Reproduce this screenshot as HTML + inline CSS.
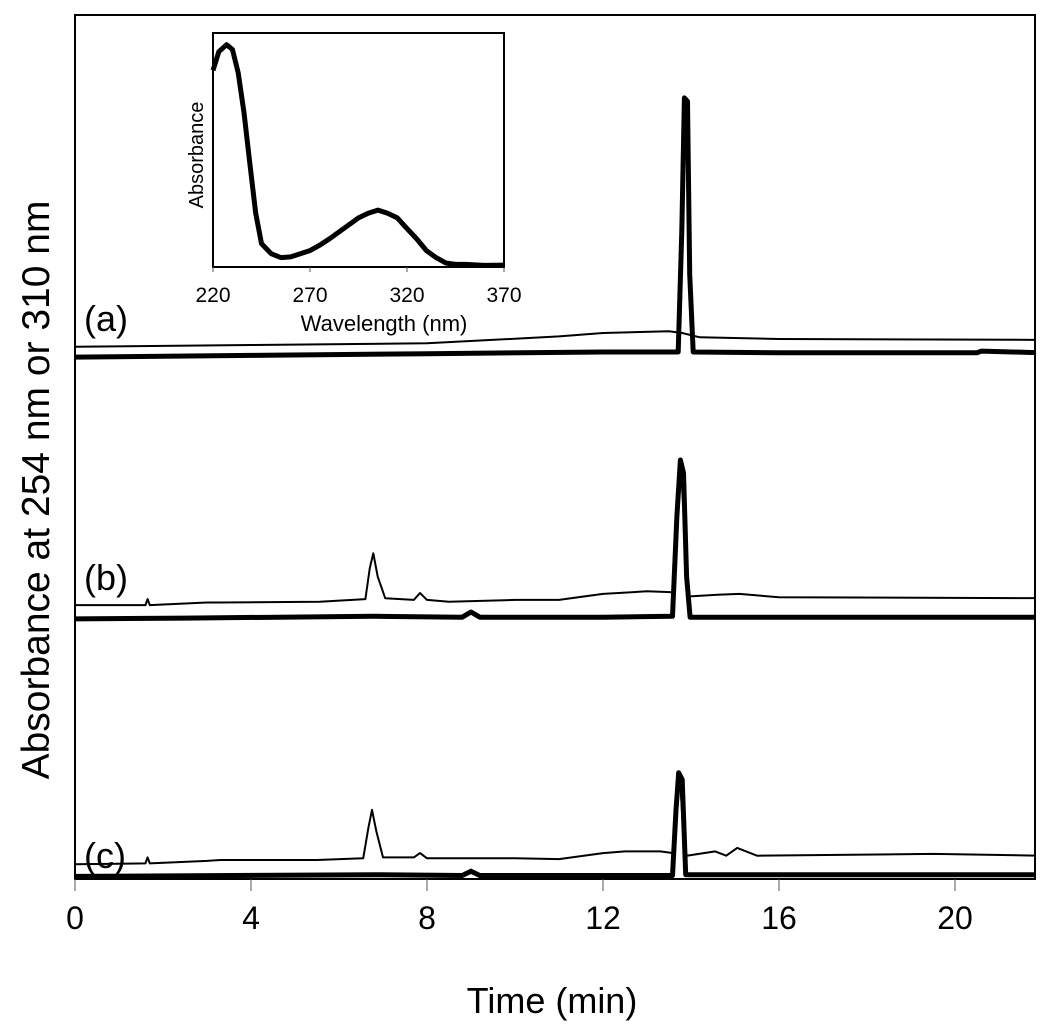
<!DOCTYPE html>
<html><head><meta charset="utf-8"><style>
html,body{margin:0;padding:0;background:#fff}
svg{display:block;font-family:"Liberation Sans",Arial,sans-serif}
</style></head><body>
<svg id="chart" width="1050" height="1035" viewBox="0 0 1050 1035"></svg>
<script>
// ---- main chart data (time in min, absorbance arbitrary offset units) ----
const xTicks = [0, 4, 8, 12, 16, 20];
const traceA_thick_t = [0, 4, 8, 12, 13.71, 13.79, 13.85, 13.92, 13.97, 14.05, 16, 20.5, 20.6, 22];
const traceA_thick_v = [60.4, 60.6, 60.8, 61.0, 61.0, 75, 90.4, 90.0, 70, 61.0, 60.9, 60.9, 61.1, 60.9];
const traceA_thin_t = [0, 4, 8, 11, 12, 13.5, 13.8, 14.2, 16, 22];
const traceA_thin_v = [61.6, 61.8, 62.0, 62.8, 63.2, 63.4, 63.2, 62.7, 62.5, 62.4];
const traceB_thick_t = [0, 2.5, 6.8, 8.8, 9.0, 9.2, 12, 13.58, 13.68, 13.76, 13.83, 13.9, 13.98, 16, 22];
const traceB_thick_v = [30.1, 30.2, 30.4, 30.3, 30.9, 30.3, 30.3, 30.4, 42, 48.5, 47, 35, 30.3, 30.3, 30.3];
const traceB_thin_t = [0, 1.6, 1.65, 1.7, 3.0, 3.3, 5.56, 6.6, 6.7, 6.78, 6.88, 7.05, 7.7, 7.84, 8.0, 8.5, 10.0, 11, 12, 13, 13.6, 13.68, 13.76, 13.84, 13.93, 14.6, 15.1, 16, 22];
const traceB_thin_v = [31.7, 31.7, 32.4, 31.7, 32.0, 32.0, 32.1, 32.4, 36, 37.7, 35, 32.5, 32.3, 33.1, 32.3, 32.1, 32.3, 32.3, 33.0, 33.3, 33.2, 42, 48, 42, 32.7, 32.9, 33.0, 32.6, 32.5];
const traceC_thick_t = [0, 6.8, 8.8, 9.0, 9.2, 12, 13.58, 13.66, 13.72, 13.8, 13.88, 16, 22];
const traceC_thick_v = [0.3, 0.5, 0.4, 0.9, 0.4, 0.4, 0.4, 8, 12.3, 11.5, 0.5, 0.5, 0.5];
const traceC_thin_t = [0, 1.6, 1.65, 1.7, 3.0, 3.3, 5.5, 6.55, 6.67, 6.75, 6.85, 7.0, 7.7, 7.84, 8.0, 8.9, 10.0, 11, 12, 12.5, 13.3, 13.6, 13.68, 13.75, 13.83, 13.9, 14.55, 14.8, 15.05, 15.5, 19.5, 22];
const traceC_thin_v = [1.7, 1.8, 2.5, 1.8, 2.1, 2.2, 2.2, 2.4, 6, 8.0, 5.5, 2.5, 2.5, 3.0, 2.4, 2.4, 2.4, 2.3, 3.0, 3.2, 3.2, 3.0, 9, 11.5, 5, 2.7, 3.2, 2.7, 3.6, 2.7, 2.9, 2.7];
// ---- inset spectrum data ----
const insetTicks = [220, 270, 320, 370];
const specWl = [220,223,227,230,233,236,239,242,245,250,255,260,265,270,275,280,285,290,295,300,305,310,315,320,325,330,335,340,345,350,360,370];
const specAbs = [0.84,0.92,0.95,0.93,0.83,0.66,0.44,0.23,0.10,0.057,0.04,0.043,0.057,0.07,0.093,0.12,0.15,0.18,0.21,0.23,0.243,0.23,0.21,0.164,0.12,0.07,0.04,0.017,0.011,0.011,0.007,0.008];

const NS = "http://www.w3.org/2000/svg";
const svg = document.getElementById('chart');
function mk(tag, attrs, parent){const e=document.createElementNS(NS,tag);for(const k in attrs)e.setAttribute(k,attrs[k]);(parent||svg).appendChild(e);return e;}

const X0=75, X1=1035, Y0=879, Y1=15;
const xS = t => 75 + t*44;
const yS = v => Y0 - v*(Y0-Y1)/100;

const clip=mk('clipPath',{id:'plotclip'});
mk('rect',{x:X0,y:Y1,width:X1-X0,height:Y0-Y1},clip);

const frame = mk('rect',{x:X0,y:Y1,width:X1-X0,height:Y0-Y1,fill:'none',stroke:'#000','stroke-width':2});



xTicks.forEach(t=>{
  const l=mk('line',{x1:xS(t),x2:xS(t),y1:Y0,y2:Y0+12,stroke:'#555','stroke-width':1});
  
  
  const tx=mk('text',{x:xS(t),y:Y0+50,'font-size':32,'text-anchor':'middle',fill:'#000'});
  tx.textContent=t;
  
  
});
const xt=mk('text',{x:552,y:1013,'font-size':36,'text-anchor':'middle'});
xt.textContent='Time (min)';


const yt=mk('text',{x:0,y:0,'font-size':39,'text-anchor':'middle',transform:'translate(49,490) rotate(-90)'});
yt.textContent='Absorbance at 254 nm or 310 nm';



const g=mk('g',{'clip-path':'url(#plotclip)'});
function trace(ts,vs,w,name){
  const d=ts.map((t,i)=>(i?'L':'M')+xS(t).toFixed(1)+','+yS(vs[i]).toFixed(1)).join('');
  const p=mk('path',{d:d,fill:'none',stroke:'#000','stroke-width':w,'stroke-linejoin':'round'},g);
  
  
}
trace(traceA_thin_t,traceA_thin_v,2,'trace-a-310nm');
trace(traceA_thick_t,traceA_thick_v,5,'trace-a-254nm');
trace(traceB_thin_t,traceB_thin_v,2,'trace-b-310nm');
trace(traceB_thick_t,traceB_thick_v,5,'trace-b-254nm');
trace(traceC_thin_t,traceC_thin_v,2,'trace-c-310nm');
trace(traceC_thick_t,traceC_thick_v,5,'trace-c-254nm');

[['(a)',331,'label-a'],['(b)',590,'label-b'],['(c)',868,'label-c']].forEach(a=>{
  const t=mk('text',{x:84,y:a[1],'font-size':36});
  t.textContent=a[0];
  
  
});

// inset
const IX0=213, IX1=504, IY0=267, IY1=33;
const ixS = w => IX0 + (w-220)*(IX1-IX0)/150;
const iyS = a => IY0 - a*(IY0-IY1);
const ir=mk('rect',{x:IX0,y:IY1,width:IX1-IX0,height:IY0-IY1,fill:'#fff',stroke:'#000','stroke-width':2});


insetTicks.forEach(w=>{
  const l=mk('line',{x1:ixS(w),x2:ixS(w),y1:IY0,y2:IY0+5,stroke:'#555','stroke-width':1});
  
  
  const tx=mk('text',{x:ixS(w),y:IY0+35,'font-size':21,'text-anchor':'middle'});
  tx.textContent=w;
  
  
});
const iwt=mk('text',{x:384,y:331,'font-size':22,'text-anchor':'middle'});
iwt.textContent='Wavelength (nm)';


const iat=mk('text',{x:0,y:0,'font-size':20,'text-anchor':'middle',transform:'translate(203,155) rotate(-90)'});
iat.textContent='Absorbance';


const sd=specWl.map((w,i)=>(i?'L':'M')+ixS(w).toFixed(1)+','+iyS(specAbs[i]).toFixed(1)).join('');
const sp=mk('path',{d:sd,fill:'none',stroke:'#000','stroke-width':5,'stroke-linejoin':'round'});


</script>
</body></html>
